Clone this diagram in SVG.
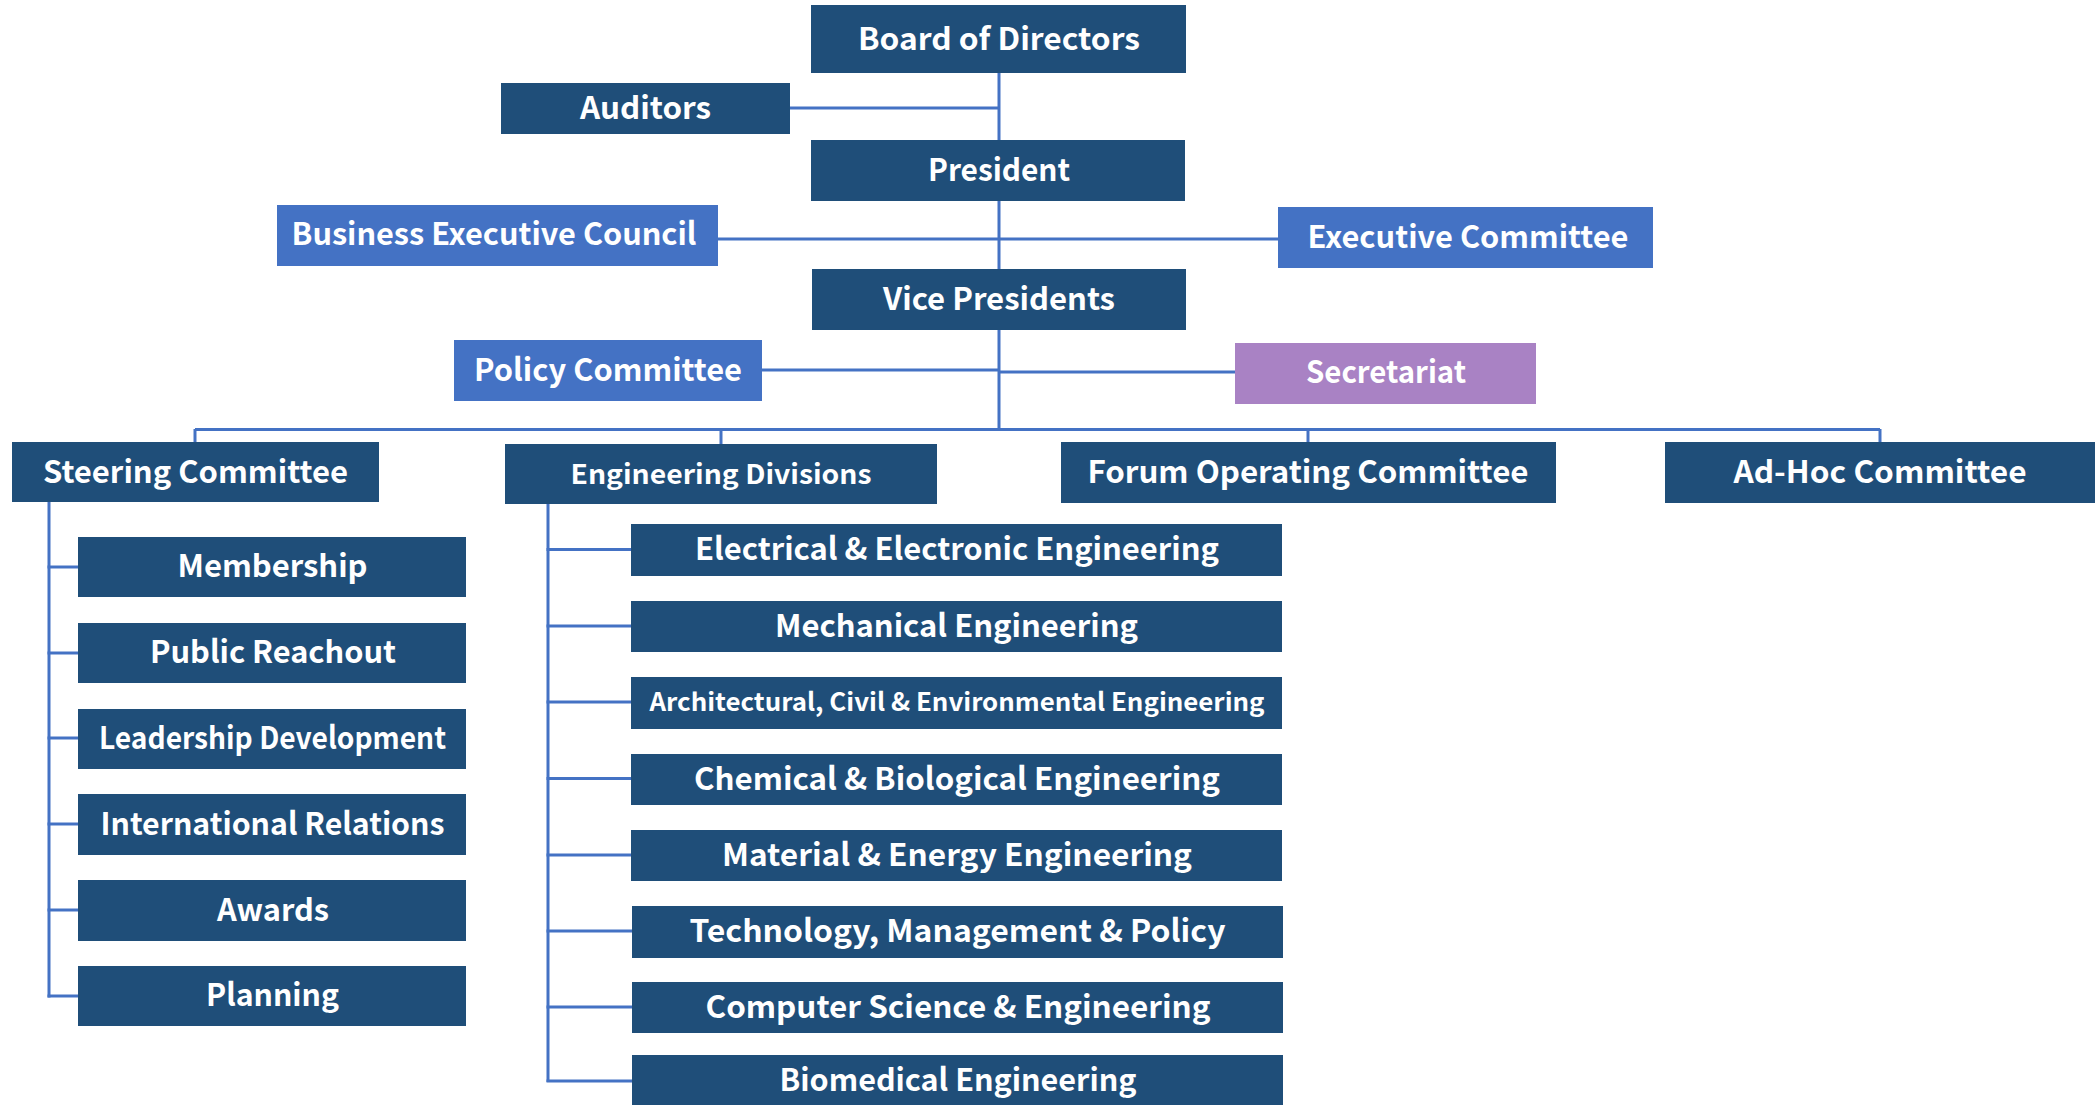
<svg xmlns="http://www.w3.org/2000/svg" width="2100" height="1105" viewBox="0 0 2100 1105">
<style>
.n{fill:#1F4E79}
.b{fill:#4472C4}
.p{fill:#A982C4}
text{font-family:"Noto Sans CJK KR","Noto Sans",sans-serif;font-weight:700;fill:#FFFFFF;text-anchor:middle}
.f31{font-size:31px}
.f27{font-size:27px}
.f25{font-size:25px}
.c line, .c polyline{stroke:#4472C4;stroke-width:3;fill:none}
</style>
<rect width="2100" height="1105" fill="#FFFFFF"/>
<g class="c" id="connectors">
<line x1="999" y1="72" x2="999" y2="430"/>
<line x1="790" y1="108" x2="999" y2="108"/>
<line x1="717" y1="239" x2="1278" y2="239"/>
<line x1="762" y1="370" x2="999" y2="370"/>
<line x1="999" y1="372" x2="1235" y2="372"/>
<line x1="195" y1="429.5" x2="1880" y2="429.5"/>
<line x1="195" y1="429" x2="195" y2="442"/>
<line x1="721" y1="429" x2="721" y2="444"/>
<line x1="1308" y1="429" x2="1308" y2="442"/>
<line x1="1880" y1="429" x2="1880" y2="442"/>
<line x1="49" y1="502" x2="49" y2="997.5"/>
<line x1="47.5" y1="567" x2="78" y2="567"/>
<line x1="47.5" y1="653" x2="78" y2="653"/>
<line x1="47.5" y1="738" x2="78" y2="738"/>
<line x1="47.5" y1="824" x2="78" y2="824"/>
<line x1="47.5" y1="910" x2="78" y2="910"/>
<line x1="47.5" y1="996" x2="78" y2="996"/>
<line x1="548" y1="504" x2="548" y2="1082"/>
<line x1="546.5" y1="549.5" x2="631" y2="549.5"/>
<line x1="546.5" y1="626" x2="631" y2="626"/>
<line x1="546.5" y1="702" x2="631" y2="702"/>
<line x1="546.5" y1="778.5" x2="631" y2="778.5"/>
<line x1="546.5" y1="855" x2="631" y2="855"/>
<line x1="546.5" y1="931" x2="632" y2="931"/>
<line x1="546.5" y1="1007" x2="632" y2="1007"/>
<line x1="546.5" y1="1081" x2="632" y2="1081"/>
</g>
<g id="board"><rect class="n" x="811" y="5" width="375" height="68"/><text class="f31" x="999" y="50" textLength="282" lengthAdjust="spacingAndGlyphs">Board of Directors</text></g>
<g id="auditors"><rect class="n" x="501" y="83" width="289" height="51"/><text class="f31" x="645.5" y="119" textLength="131" lengthAdjust="spacingAndGlyphs">Auditors</text></g>
<g id="president"><rect class="n" x="811" y="140" width="374" height="61"/><text class="f31" x="999" y="181" textLength="142" lengthAdjust="spacingAndGlyphs">President</text></g>
<g id="bec"><rect class="b" x="277" y="205" width="441" height="61"/><text class="f31" x="494" y="245" textLength="405" lengthAdjust="spacingAndGlyphs">Business Executive Council</text></g>
<g id="exec"><rect class="b" x="1278" y="207" width="375" height="61"/><text class="f31" x="1468" y="248" textLength="321" lengthAdjust="spacingAndGlyphs">Executive Committee</text></g>
<g id="vp"><rect class="n" x="812" y="269" width="374" height="61"/><text class="f31" x="999" y="310" textLength="232" lengthAdjust="spacingAndGlyphs">Vice Presidents</text></g>
<g id="policy"><rect class="b" x="454" y="340" width="308" height="61"/><text class="f31" x="608" y="381" textLength="268" lengthAdjust="spacingAndGlyphs">Policy Committee</text></g>
<g id="secretariat"><rect class="p" x="1235" y="343" width="301" height="61"/><text class="f31" x="1386" y="383" textLength="160" lengthAdjust="spacingAndGlyphs">Secretariat</text></g>
<g id="steering"><rect class="n" x="12" y="442" width="367" height="60"/><text class="f31" x="195.5" y="482.5" textLength="305" lengthAdjust="spacingAndGlyphs">Steering Committee</text></g>
<g id="engdiv"><rect class="n" x="505" y="444" width="432" height="60"/><text class="f27" x="721" y="483.5" textLength="301" lengthAdjust="spacingAndGlyphs">Engineering Divisions</text></g>
<g id="forum"><rect class="n" x="1061" y="442" width="495" height="61"/><text class="f31" x="1308" y="483" textLength="441" lengthAdjust="spacingAndGlyphs">Forum Operating Committee</text></g>
<g id="adhoc"><rect class="n" x="1665" y="442" width="430" height="61"/><text class="f31" x="1880" y="483" textLength="293" lengthAdjust="spacingAndGlyphs">Ad-Hoc Committee</text></g>
<g id="membership"><rect class="n" x="78" y="537" width="388" height="60"/><text class="f31" x="272.5" y="577" textLength="190" lengthAdjust="spacingAndGlyphs">Membership</text></g>
<g id="reachout"><rect class="n" x="78" y="623" width="388" height="60"/><text class="f31" x="273" y="663" textLength="246" lengthAdjust="spacingAndGlyphs">Public Reachout</text></g>
<g id="leadership"><rect class="n" x="78" y="709" width="388" height="60"/><text class="f31" x="272.5" y="749" textLength="347" lengthAdjust="spacingAndGlyphs">Leadership Development</text></g>
<g id="international"><rect class="n" x="78" y="794" width="388" height="61"/><text class="f31" x="272.5" y="835" textLength="344" lengthAdjust="spacingAndGlyphs">International Relations</text></g>
<g id="awards"><rect class="n" x="78" y="880" width="388" height="61"/><text class="f31" x="273" y="921" textLength="112" lengthAdjust="spacingAndGlyphs">Awards</text></g>
<g id="planning"><rect class="n" x="78" y="966" width="388" height="60"/><text class="f31" x="272.5" y="1006" textLength="133" lengthAdjust="spacingAndGlyphs">Planning</text></g>
<g id="eee"><rect class="n" x="631" y="524" width="651" height="52"/><text class="f31" x="957" y="560" textLength="524" lengthAdjust="spacingAndGlyphs">Electrical &amp; Electronic Engineering</text></g>
<g id="mech"><rect class="n" x="631" y="601" width="651" height="51"/><text class="f31" x="956.5" y="637" textLength="363" lengthAdjust="spacingAndGlyphs">Mechanical Engineering</text></g>
<g id="ace"><rect class="n" x="631" y="677" width="651" height="52"/><text class="f25" x="957" y="711" textLength="615" lengthAdjust="spacingAndGlyphs">Architectural, Civil &amp; Environmental Engineering</text></g>
<g id="chem"><rect class="n" x="631" y="754" width="651" height="51"/><text class="f31" x="957" y="790" textLength="526" lengthAdjust="spacingAndGlyphs">Chemical &amp; Biological Engineering</text></g>
<g id="material"><rect class="n" x="631" y="830" width="651" height="51"/><text class="f31" x="957" y="866" textLength="470" lengthAdjust="spacingAndGlyphs">Material &amp; Energy Engineering</text></g>
<g id="tech"><rect class="n" x="632" y="906" width="651" height="52"/><text class="f31" x="957.5" y="942" textLength="536" lengthAdjust="spacingAndGlyphs">Technology, Management &amp; Policy</text></g>
<g id="cse"><rect class="n" x="632" y="982" width="651" height="51"/><text class="f31" x="958" y="1018" textLength="505" lengthAdjust="spacingAndGlyphs">Computer Science &amp; Engineering</text></g>
<g id="bme"><rect class="n" x="632" y="1055" width="651" height="52"/><text class="f31" x="958" y="1091" textLength="357" lengthAdjust="spacingAndGlyphs">Biomedical Engineering</text></g>
</svg>
